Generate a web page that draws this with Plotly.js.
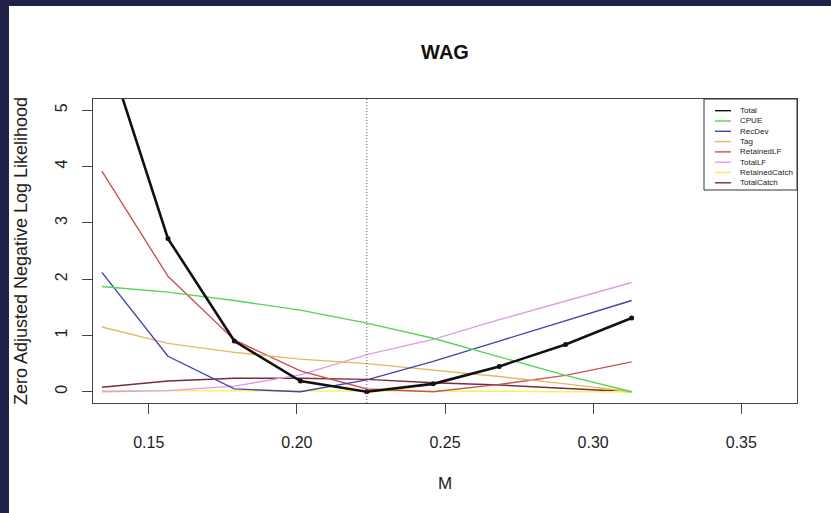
<!DOCTYPE html>
<html>
<head>
<meta charset="utf-8">
<script src="https://cdn.plot.ly/plotly-3.0.1.min.js"></script>
<style>
  html, body { margin: 0; padding: 0; background: #1f2148; width: 831px; height: 513px; overflow: hidden; }
  #plot { position: absolute; left: 9px; top: 6px; width: 822px; height: 507px; background: #ffffff; }
</style>
</head>
<body>
<div id="plot"></div>
<script>
// ---- data ----
const M = [0.1342, 0.1565, 0.1789, 0.2012, 0.2236, 0.2460, 0.2683, 0.2907, 0.3130];
const refM = 0.2236;

const Total         = [6.35, 2.72, 0.90, 0.19, 0.00, 0.14, 0.45, 0.84, 1.31];
const CPUE          = [1.87, 1.77, 1.62, 1.45, 1.22, 0.95, 0.62, 0.29, 0.00];
const RecDev        = [2.12, 0.63, 0.05, 0.00, 0.21, 0.54, 0.90, 1.26, 1.62];
const Tag           = [1.15, 0.86, 0.70, 0.58, 0.50, 0.39, 0.27, 0.14, 0.00];
const RetainedLF    = [3.92, 2.05, 0.92, 0.37, 0.05, 0.00, 0.13, 0.29, 0.53];
const TotalLF       = [0.00, 0.02, 0.10, 0.30, 0.66, 0.93, 1.28, 1.61, 1.94];
const RetainedCatch = [0.02, 0.02, 0.02, 0.02, 0.01, 0.01, 0.01, 0.00, 0.00];
const TotalCatch    = [0.08, 0.19, 0.24, 0.24, 0.22, 0.16, 0.12, 0.06, 0.00];

const seriesNames  = ["Total", "CPUE", "RecDev", "Tag", "RetainedLF", "TotalLF", "RetainedCatch", "TotalCatch"];
const seriesValues = [Total, CPUE, RecDev, Tag, RetainedLF, TotalLF, RetainedCatch, TotalCatch];
const seriesColors = ["#111111", "#55d455", "#4343a8", "#e4b860", "#cc5252", "#e49ae4", "#f4f05c", "#7a2a3a"];

const xTickVals = [0.15, 0.20, 0.25, 0.30, 0.35];
const xTickText = ["0.15", "0.20", "0.25", "0.30", "0.35"];
const yTickVals = [0, 1, 2, 3, 4, 5];
const yTickText = ["0", "1", "2", "3", "4", "5"];

// ---- traces ----
const traces = [];
for (let i = seriesNames.length - 1; i >= 1; i--) {
  traces.push({
    type: "scatter", mode: "lines", name: seriesNames[i],
    x: M, y: seriesValues[i],
    line: { color: seriesColors[i], width: 1.4 },
    hoverinfo: "x+y+name"
  });
}
traces.push({
  type: "scatter", mode: "lines+markers", name: seriesNames[0],
  x: M, y: seriesValues[0],
  line: { color: seriesColors[0], width: 2.6 },
  marker: { color: seriesColors[0], size: 5 },
  hoverinfo: "x+y+name"
});

// ---- layout geometry (div pixels) ----
const W = 822, H = 507;
const mL = 84, mR = 34, mT = 93, mB = 110;
const pw = W - mL - mR, ph = H - mT - mB;
const px = (pageX) => (pageX - 9 - mL) / pw;
const py = (pageY) => (H - mB - (pageY - 6)) / ph;

const shapes = [
  { type: "line", xref: "x", yref: "paper", x0: refM, x1: refM, y0: 0, y1: 1,
    line: { color: "#5a5a78", width: 1, dash: "1px,2px" } },
  { type: "rect", xref: "paper", yref: "paper", x0: px(704), x1: 1, y0: py(190), y1: 1,
    line: { color: "#333333", width: 1 }, fillcolor: "rgba(255,255,255,0)" }
];
const annotations = [];
const legTop = 110.7, legStep = 10.3;
seriesNames.forEach((nm, i) => {
  const yy = py(legTop + i * legStep);
  shapes.push({ type: "line", xref: "paper", yref: "paper", x0: px(715), x1: px(731), y0: yy, y1: yy,
    line: { color: seriesColors[i], width: 1.4 } });
  annotations.push({ xref: "paper", yref: "paper", x: px(738), y: yy, xanchor: "left", yanchor: "middle",
    text: nm, showarrow: false, font: { family: "Liberation Sans, Arial, sans-serif", size: 8, color: "#222222" } });
});

const axisFont = { family: "Liberation Sans, Arial, sans-serif", size: 16, color: "#222222" };

const layout = {
  width: W, height: H,
  margin: { l: mL, r: mR, t: mT, b: mB, pad: 0 },
  paper_bgcolor: "#ffffff", plot_bgcolor: "#ffffff",
  showlegend: false,
  title: { text: "<b>WAG</b>", x: 0.5, xref: "paper", xanchor: "center",
           y: 1 - 46 / H, yref: "container", yanchor: "middle",
           font: { family: "Liberation Sans, Arial, sans-serif", size: 20, color: "#111111" } },
  xaxis: {
    range: [0.1312, 0.3688], tickvals: xTickVals, ticktext: xTickText,
    ticks: "outside", ticklen: 10, tickwidth: 1, tickcolor: "#444444",
    ticklabelstandoff: 14,
    showline: true, mirror: true, linecolor: "#444444", linewidth: 1.3,
    showgrid: false, zeroline: false, tickfont: axisFont,
    title: { text: "M", font: { family: "Liberation Sans, Arial, sans-serif", size: 17, color: "#222222" }, standoff: 27 },
    automargin: false
  },
  yaxis: {
    range: [-0.2, 5.2], tickvals: yTickVals, ticktext: yTickText, tickangle: -90,
    ticks: "outside", ticklen: 10, tickwidth: 1, tickcolor: "#444444",
    ticklabelstandoff: 8,
    showline: true, mirror: true, linecolor: "#444444", linewidth: 1.3,
    showgrid: false, zeroline: false, tickfont: axisFont,
    title: { text: "Zero Adjusted Negative Log Likelihood", font: { family: "Liberation Sans, Arial, sans-serif", size: 18, color: "#222222" }, standoff: 21 },
    automargin: false
  },
  shapes: shapes,
  annotations: annotations
};

Plotly.newPlot("plot", traces, layout, { displayModeBar: false, staticPlot: true });
</script>
</body>
</html>
